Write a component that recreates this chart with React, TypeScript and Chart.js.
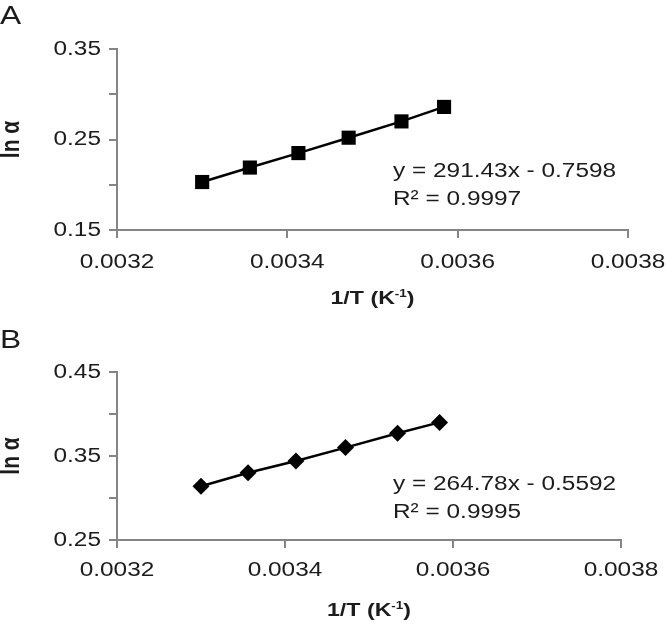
import React, { useEffect, useRef } from 'react';
import { Chart, registerables } from 'chart.js';

Chart.register(...registerables);

// ---- data ----
const invT = [0.0033, 0.003356, 0.003413, 0.003472, 0.003534, 0.003584];
const lnAlphaA = [0.203, 0.219, 0.235, 0.252, 0.27, 0.286];
const lnAlphaB = [0.314, 0.33, 0.344, 0.36, 0.377, 0.39];
const xTicks = [0.0032, 0.0034, 0.0036, 0.0038];
const xTickLabels = ['0.0032', '0.0034', '0.0036', '0.0038'];
const yTicksA = [0.15, 0.2, 0.25, 0.3, 0.35];
const yTickLabelsA = ['0.15', '', '0.25', '', '0.35'];
const yTicksB = [0.25, 0.3, 0.35, 0.4, 0.45];
const yTickLabelsB = ['0.25', '', '0.35', '', '0.45'];
const eqA = ['y = 291.43x - 0.7598', 'R² = 0.9997'];
const eqB = ['y = 264.78x - 0.5592', 'R² = 0.9995'];
const xTitleMain = '1/T (K';
const xTitleSup = '-1';
const xTitleEnd = ')';
const yTitle = 'ln α';

const FONT = '"Liberation Sans", Arial, Helvetica, sans-serif';
const TEXT = '#1c1c1c';
const AXIS = '#858585';
const SX = 1.22; // horizontal stretch of the lettering

type PanelProps = {
  letter: string;
  yValues: number[];
  yTicks: number[];
  yLabels: string[];
  eq: string[];
  pointStyle: 'rect' | 'rectRot';
  radius: number;
  height: number;
  top: number;
  bottom: number;
  right: number;
  letterBaseline: number;
  xLabelY: number;
  xTitleY: number;
};

function sText(ctx: CanvasRenderingContext2D, text: string, x: number, y: number, align: CanvasTextAlign) {
  ctx.save();
  ctx.translate(x, y);
  ctx.scale(SX, 1);
  ctx.textAlign = align;
  ctx.fillText(text, 0, 0);
  ctx.restore();
}

function Panel(p: PanelProps) {
  const ref = useRef<HTMLCanvasElement | null>(null);
  useEffect(() => {
    const canvas = ref.current;
    if (!canvas) return;
    const textPlugin = {
      id: 'annot' + p.letter,
      afterDraw(chart: any) {
        const ctx: CanvasRenderingContext2D = chart.ctx;
        const area = chart.chartArea;
        const xs = chart.scales.x;
        const ys = chart.scales.y;
        ctx.save();
        ctx.fillStyle = TEXT;

        // panel letter
        ctx.font = `26px ${FONT}`;
        ctx.textBaseline = 'alphabetic';
        sText(ctx, p.letter, 0, p.letterBaseline, 'left');

        // tick labels
        ctx.font = `20px ${FONT}`;
        ctx.textBaseline = 'middle';
        xTicks.forEach((v, i) => {
          sText(ctx, xTickLabels[i], xs.getPixelForValue(v), p.xLabelY, 'center');
        });
        p.yTicks.forEach((v, i) => {
          if (p.yLabels[i]) sText(ctx, p.yLabels[i], area.left - 16, ys.getPixelForValue(v), 'right');
        });

        // regression text
        sText(ctx, p.eq[0], 393, 171.5, 'left');
        sText(ctx, p.eq[1], 393, 199, 'left');

        // x title with superscript
        const big = `bold 19px ${FONT}`;
        const small = `bold 11px ${FONT}`;
        ctx.font = big;
        const w1 = ctx.measureText(xTitleMain).width;
        const w3 = ctx.measureText(xTitleEnd).width;
        ctx.font = small;
        const w2 = ctx.measureText(xTitleSup).width;
        const total = (w1 + w2 + w3) * SX;
        let x0 = (area.left + area.right) / 2 - total / 2;
        ctx.textBaseline = 'alphabetic';
        const base = p.xTitleY + 7;
        ctx.font = big;
        sText(ctx, xTitleMain, x0, base, 'left');
        x0 += w1 * SX;
        ctx.font = small;
        sText(ctx, xTitleSup, x0, base - 7, 'left');
        x0 += w2 * SX;
        ctx.font = big;
        sText(ctx, xTitleEnd, x0, base, 'left');

        // y title (rotated)
        ctx.save();
        ctx.translate(12, (area.top + area.bottom) / 2);
        ctx.scale(SX, 1);
        ctx.rotate(-Math.PI / 2);
        ctx.font = `bold 21px ${FONT}`;
        ctx.textAlign = 'center';
        ctx.textBaseline = 'middle';
        ctx.fillText(yTitle, 0, 0);
        ctx.restore();

        ctx.restore();
      },
    };
    const chart = new Chart(canvas, {
      type: 'scatter',
      data: {
        datasets: [
          {
            data: invT.map((x, i) => ({ x, y: p.yValues[i] })),
            showLine: true,
            borderColor: '#000',
            borderWidth: 2.5,
            backgroundColor: '#000',
            pointBackgroundColor: '#000',
            pointBorderColor: '#000',
            pointBorderWidth: 0,
            pointStyle: p.pointStyle,
            pointRadius: p.radius,
            pointHoverRadius: p.radius,
          },
        ],
      },
      options: {
        animation: false,
        responsive: false,
        events: [],
        layout: { padding: { top: p.top, right: 666 - p.right, left: 0, bottom: 0 } },
        plugins: { legend: { display: false }, tooltip: { enabled: false } },
        scales: {
          x: {
            type: 'linear',
            min: xTicks[0],
            max: xTicks[xTicks.length - 1],
            afterBuildTicks: (s: any) => {
              s.ticks = xTicks.map((v) => ({ value: v }));
            },
            afterFit: (s: any) => {
              s.height = p.height - p.bottom;
            },
            grid: { drawOnChartArea: false, drawTicks: true, tickLength: 8, color: AXIS, lineWidth: 2 },
            border: { display: true, color: AXIS, width: 2 },
            ticks: { display: false },
            title: { display: false },
          },
          y: {
            type: 'linear',
            min: p.yTicks[0],
            max: p.yTicks[p.yTicks.length - 1],
            afterBuildTicks: (s: any) => {
              s.ticks = p.yTicks.map((v) => ({ value: v }));
            },
            afterFit: (s: any) => {
              s.width = 117;
            },
            grid: { drawOnChartArea: false, drawTicks: true, tickLength: 8, color: AXIS, lineWidth: 2 },
            border: { display: true, color: AXIS, width: 2 },
            ticks: { display: false },
            title: { display: false },
          },
        },
      },
      plugins: [textPlugin],
    } as any);
    return () => chart.destroy();
  }, []);
  return <canvas ref={ref} width={666} height={p.height} style={{ display: 'block', width: 666, height: p.height }} />;
}

export default function App() {
  useEffect(() => {
    document.body.style.margin = '0';
    document.body.style.background = '#fff';
  }, []);
  return (
    <div style={{ width: 666, height: 627, background: '#fff' }}>
      <Panel
        letter="A"
        yValues={lnAlphaA}
        yTicks={yTicksA}
        yLabels={yTickLabelsA}
        eq={eqA}
        pointStyle="rect"
        radius={10}
        height={313}
        top={49}
        bottom={230}
        right={628}
        letterBaseline={24}
        xLabelY={262}
        xTitleY={297}
      />
      <Panel
        letter="B"
        yValues={lnAlphaB}
        yTicks={yTicksB}
        yLabels={yTickLabelsB}
        eq={eqB}
        pointStyle="rectRot"
        radius={8.5}
        height={314}
        top={59}
        bottom={227}
        right={621}
        letterBaseline={35}
        xLabelY={257}
        xTitleY={296}
      />
    </div>
  );
}
